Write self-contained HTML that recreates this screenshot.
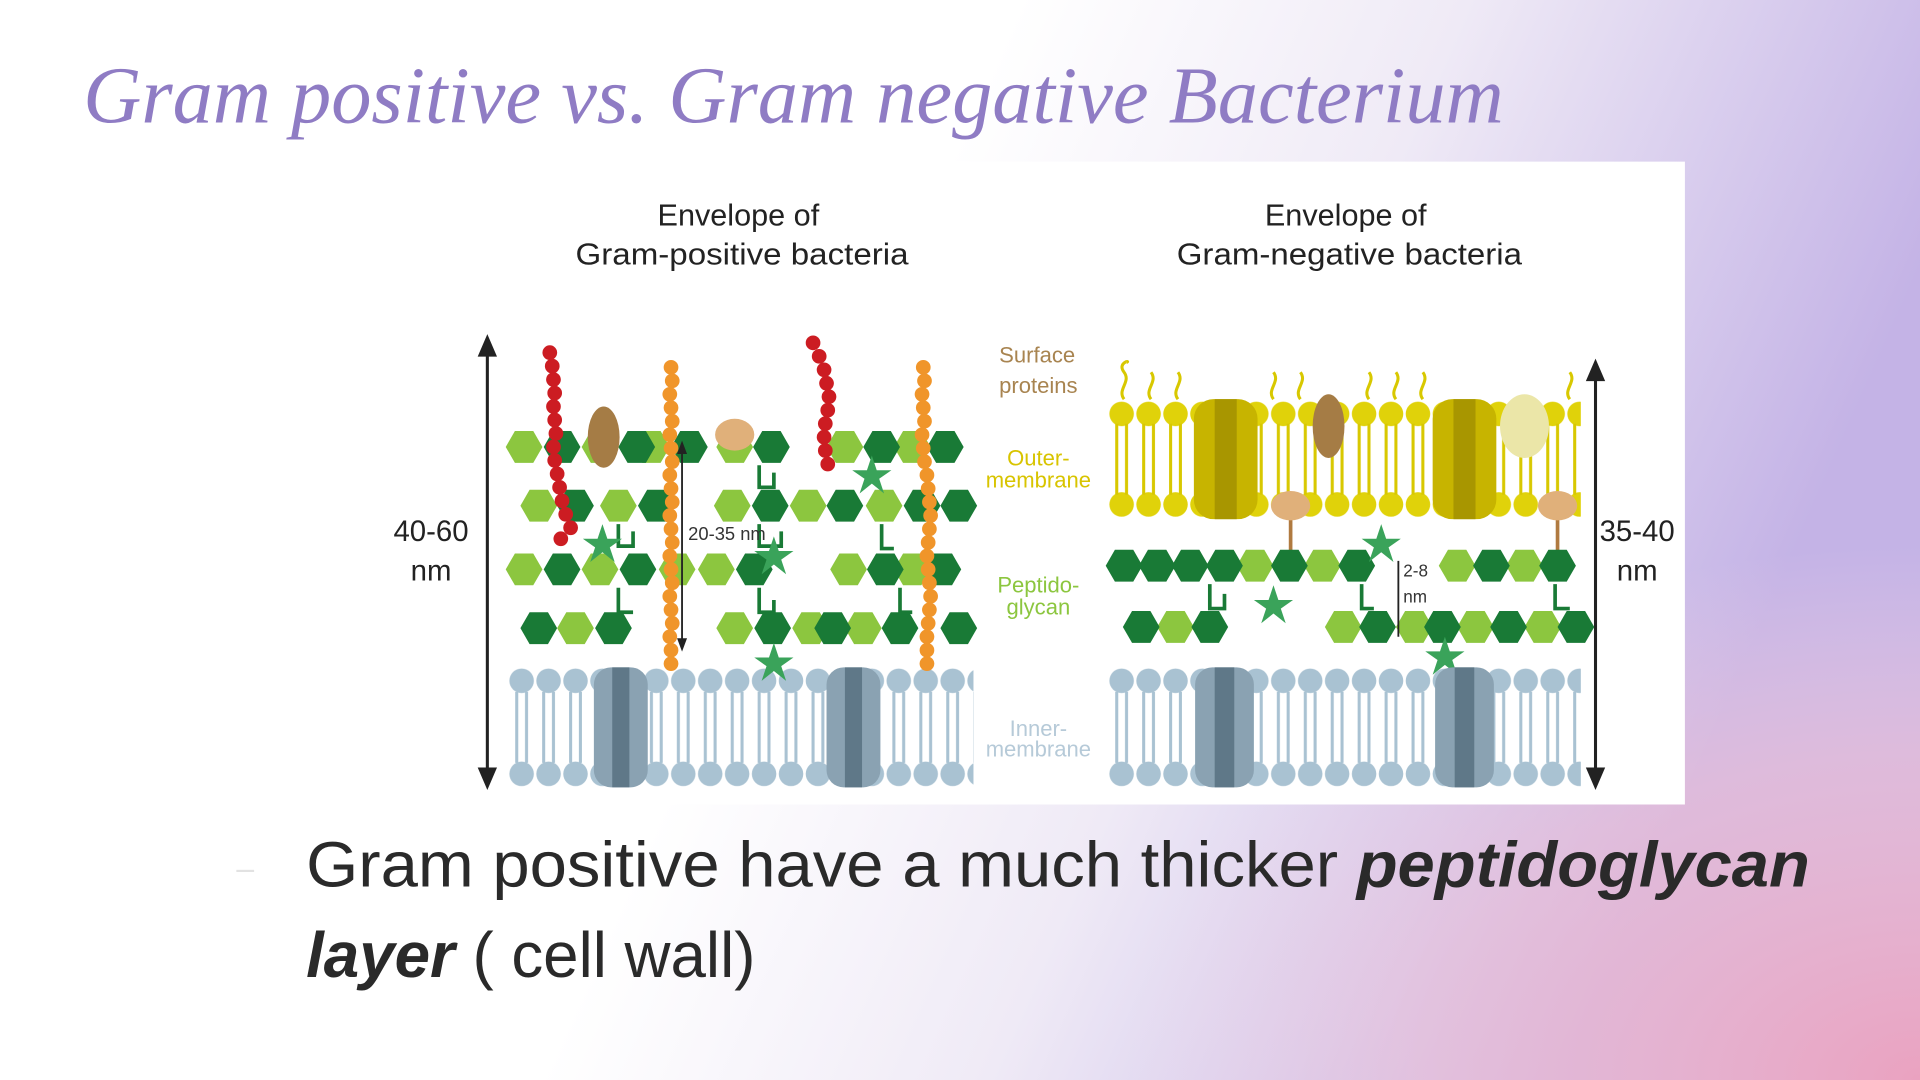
<!DOCTYPE html>
<html><head><meta charset="utf-8"><style>
html,body{margin:0;padding:0;width:1920px;height:1080px;overflow:hidden;background:#fff}
svg{display:block}
</style></head><body>
<svg width="1920" height="1080" viewBox="0 0 1568 882" xmlns="http://www.w3.org/2000/svg">
<defs>
<linearGradient id="bg1" x1="0" y1="0" x2="1" y2="0.25">
<stop offset="0.5" stop-color="#ffffff"/>
<stop offset="0.72" stop-color="#efeaf6"/>
<stop offset="1" stop-color="#c4b3e6"/>
</linearGradient>
<radialGradient id="bg3" cx="1" cy="1" r="0.75">
<stop offset="0" stop-color="#eaa2c0"/>
<stop offset="0.6" stop-color="#f0c0d4" stop-opacity="0.6"/>
<stop offset="1" stop-color="#f5d5e2" stop-opacity="0"/>
</radialGradient>
<polygon id="hx" points="-15,0 -7.5,-13 7.5,-13 15,0 7.5,13 -7.5,13"/>
<pattern id="mem" patternUnits="userSpaceOnUse" x="415" y="545" width="22" height="98">
<circle cx="11" cy="11" r="10" fill="#a9c2d2"/><circle cx="11" cy="87" r="10" fill="#a9c2d2"/>
<line x1="7" y1="20" x2="7" y2="78" stroke="#a9c2d2" stroke-width="2.5"/><line x1="15" y1="20" x2="15" y2="78" stroke="#a9c2d2" stroke-width="2.5"/>
</pattern>
<pattern id="mem2" patternUnits="userSpaceOnUse" x="905" y="545" width="22" height="98">
<circle cx="11" cy="11" r="10" fill="#a9c2d2"/><circle cx="11" cy="87" r="10" fill="#a9c2d2"/>
<line x1="7" y1="20" x2="7" y2="78" stroke="#a9c2d2" stroke-width="2.5"/><line x1="15" y1="20" x2="15" y2="78" stroke="#a9c2d2" stroke-width="2.5"/>
</pattern>
<pattern id="om" patternUnits="userSpaceOnUse" x="905" y="326" width="22" height="98">
<circle cx="11" cy="12" r="10" fill="#e0d20a"/><circle cx="11" cy="86" r="10" fill="#e0d20a"/>
<line x1="7" y1="20" x2="7" y2="78" stroke="#d8c800" stroke-width="2.5"/><line x1="15" y1="20" x2="15" y2="78" stroke="#d8c800" stroke-width="2.5"/>
</pattern>
</defs>
<rect width="1568" height="882" fill="url(#bg1)"/>
<rect x="700" y="300" width="868" height="582" fill="url(#bg3)"/>

<text x="68" y="100" font-family="Liberation Serif, serif" font-style="italic" font-size="66" fill="#8f7cc4" textLength="1160" lengthAdjust="spacingAndGlyphs">Gram positive vs. Gram negative Bacterium</text>

<rect x="380" y="132" width="996" height="525" fill="#fff"/>
<g font-family="Liberation Sans, sans-serif" font-size="25" fill="#222" text-anchor="middle">
<text x="603" y="184">Envelope of</text><text x="606" y="216" textLength="272" lengthAdjust="spacingAndGlyphs">Gram-positive bacteria</text>
<text x="1099" y="184">Envelope of</text><text x="1102" y="216" textLength="282" lengthAdjust="spacingAndGlyphs">Gram-negative bacteria</text>
<text x="352" y="442" font-size="24">40-60</text><text x="352" y="474" font-size="24">nm</text>
<text x="1337" y="442" font-size="24">35-40</text><text x="1337" y="474" font-size="24">nm</text>
</g>
<g font-family="Liberation Sans, sans-serif" font-size="18" text-anchor="middle">
<text x="847" y="296" fill="#a88450">Surface</text><text x="848" y="321" fill="#a88450">proteins</text>
<text x="848" y="380" fill="#d8c400">Outer-</text><text x="848" y="398" fill="#d8c400">membrane</text>
<text x="848" y="484" fill="#8cc63f">Peptido-</text><text x="848" y="502" fill="#8cc63f">glycan</text>
<text x="848" y="601" fill="#b6cad8">Inner-</text><text x="848" y="618" fill="#b6cad8">membrane</text>
</g>
<g stroke="#222" stroke-width="2.5" fill="#222">
<line x1="398" y1="285" x2="398" y2="634"/><polygon points="392,290 398,276 404,290"/><polygon points="392,628 398,642 404,628"/>
<line x1="1303" y1="305" x2="1303" y2="634"/><polygon points="1297,310 1303,296 1309,310"/><polygon points="1297,628 1303,642 1309,628"/>
</g>

<rect x="415" y="545" width="380" height="98" fill="url(#mem)"/>
<g fill="#8aa2b2"><rect x="485" y="545" width="44" height="98" rx="14"/><rect x="675" y="545" width="44" height="98" rx="14"/></g>
<g fill="#5f7888"><rect x="500" y="545" width="14" height="98"/><rect x="690" y="545" width="14" height="98"/></g>
<g fill="#8cc63f">
<use href="#hx" x="428" y="365"/><use href="#hx" x="490" y="365"/><use href="#hx" x="532" y="365"/><use href="#hx" x="600" y="365"/><use href="#hx" x="690" y="365"/><use href="#hx" x="745" y="365"/>
<use href="#hx" x="440" y="413"/><use href="#hx" x="505" y="413"/><use href="#hx" x="598" y="413"/><use href="#hx" x="660" y="413"/><use href="#hx" x="722" y="413"/>
<use href="#hx" x="428" y="465"/><use href="#hx" x="490" y="465"/><use href="#hx" x="553" y="465"/><use href="#hx" x="585" y="465"/><use href="#hx" x="693" y="465"/><use href="#hx" x="745" y="465"/>
<use href="#hx" x="470" y="513"/><use href="#hx" x="600" y="513"/><use href="#hx" x="662" y="513"/><use href="#hx" x="705" y="513"/>
</g>
<g fill="#197a36">
<use href="#hx" x="459" y="365"/><use href="#hx" x="520" y="365"/><use href="#hx" x="563" y="365"/><use href="#hx" x="630" y="365"/><use href="#hx" x="720" y="365"/><use href="#hx" x="772" y="365"/>
<use href="#hx" x="470" y="413"/><use href="#hx" x="536" y="413"/><use href="#hx" x="629" y="413"/><use href="#hx" x="690" y="413"/><use href="#hx" x="753" y="413"/><use href="#hx" x="783" y="413"/>
<use href="#hx" x="459" y="465"/><use href="#hx" x="521" y="465"/><use href="#hx" x="616" y="465"/><use href="#hx" x="723" y="465"/><use href="#hx" x="770" y="465"/>
<use href="#hx" x="440" y="513"/><use href="#hx" x="501" y="513"/><use href="#hx" x="631" y="513"/><use href="#hx" x="680" y="513"/><use href="#hx" x="735" y="513"/><use href="#hx" x="783" y="513"/>
</g>
<g stroke="#197a36" stroke-width="3" fill="none">
<path d="M620 380v18h12v-12M620 428v18h18v-12M505 428v18h12v-12M505 480v20h12M620 480v20h12v-10M720 428v20h10M735 480v20h10"/>
</g>
<g fill="#3aa35a"><polygon points="492,428 496,440 508,440 498,447 502,459 492,451 482,459 486,447 476,440 488,440"/><polygon points="632,438 636,450 648,450 638,457 642,469 632,461 622,469 626,457 616,450 628,450"/><polygon points="712,372 716,384 728,384 718,391 722,403 712,395 702,403 706,391 696,384 708,384"/><polygon points="632,525 636,537 648,537 638,544 642,556 632,548 622,556 626,544 616,537 628,537"/></g>
<ellipse cx="493" cy="357" rx="13" ry="25" fill="#a57c45"/>
<ellipse cx="600" cy="355" rx="16" ry="13" fill="#e0b07a"/>
<g fill="#cc1c22">
<circle cx="449" cy="288" r="6"/><circle cx="451" cy="299" r="6"/><circle cx="452" cy="310" r="6"/><circle cx="453" cy="321" r="6"/><circle cx="452" cy="332" r="6"/><circle cx="453" cy="343" r="6"/><circle cx="454" cy="354" r="6"/><circle cx="452" cy="365" r="6"/><circle cx="453" cy="376" r="6"/><circle cx="455" cy="387" r="6"/><circle cx="457" cy="398" r="6"/><circle cx="459" cy="409" r="6"/><circle cx="462" cy="420" r="6"/><circle cx="466" cy="431" r="6"/><circle cx="458" cy="440" r="6"/>
<circle cx="664" cy="280" r="6"/><circle cx="669" cy="291" r="6"/><circle cx="673" cy="302" r="6"/><circle cx="675" cy="313" r="6"/><circle cx="677" cy="324" r="6"/><circle cx="676" cy="335" r="6"/><circle cx="674" cy="346" r="6"/><circle cx="673" cy="357" r="6"/><circle cx="674" cy="368" r="6"/><circle cx="676" cy="379" r="6"/>
</g>
<g fill="#f0952a">
<circle cx="548" cy="300" r="6"/><circle cx="549" cy="311" r="6"/><circle cx="547" cy="322" r="6"/><circle cx="548" cy="333" r="6"/><circle cx="549" cy="344" r="6"/><circle cx="547" cy="355" r="6"/><circle cx="548" cy="366" r="6"/><circle cx="549" cy="377" r="6"/><circle cx="547" cy="388" r="6"/><circle cx="548" cy="399" r="6"/><circle cx="549" cy="410" r="6"/><circle cx="547" cy="421" r="6"/><circle cx="548" cy="432" r="6"/><circle cx="549" cy="443" r="6"/><circle cx="547" cy="454" r="6"/><circle cx="548" cy="465" r="6"/><circle cx="549" cy="476" r="6"/><circle cx="547" cy="487" r="6"/><circle cx="548" cy="498" r="6"/><circle cx="549" cy="509" r="6"/><circle cx="547" cy="520" r="6"/><circle cx="548" cy="531" r="6"/><circle cx="548" cy="542" r="6"/>
<circle cx="754" cy="300" r="6"/><circle cx="755" cy="311" r="6"/><circle cx="753" cy="322" r="6"/><circle cx="754" cy="333" r="6"/><circle cx="755" cy="344" r="6"/><circle cx="753" cy="355" r="6"/><circle cx="754" cy="366" r="6"/><circle cx="755" cy="377" r="6"/><circle cx="757" cy="388" r="6"/><circle cx="758" cy="399" r="6"/><circle cx="759" cy="410" r="6"/><circle cx="760" cy="421" r="6"/><circle cx="759" cy="432" r="6"/><circle cx="758" cy="443" r="6"/><circle cx="757" cy="454" r="6"/><circle cx="758" cy="465" r="6"/><circle cx="759" cy="476" r="6"/><circle cx="760" cy="487" r="6"/><circle cx="759" cy="498" r="6"/><circle cx="758" cy="509" r="6"/><circle cx="757" cy="520" r="6"/><circle cx="757" cy="531" r="6"/><circle cx="757" cy="542" r="6"/>
</g>
<g stroke="#222" stroke-width="1.5" fill="#222"><line x1="557" y1="367" x2="557" y2="525"/><polygon points="554,522 557,530 560,522"/><polygon points="554,370 557,362 560,370"/></g>
<text x="562" y="441" font-family="Liberation Sans, sans-serif" font-size="15" fill="#333">20-35 nm</text>

<rect x="905" y="326" width="386" height="98" fill="url(#om)"/>
<g stroke="#d8c800" stroke-width="2.5" fill="none">
<path d="M918 326c-6-8 6-14 0-22s6-10 2-8M940 326c-6-8 6-14 0-22M962 326c-6-8 6-14 0-22M1040 326c-6-8 6-14 0-22M1062 326c-6-8 6-14 0-22M1118 326c-6-8 6-14 0-22M1140 326c-6-8 6-14 0-22M1162 326c-6-8 6-14 0-22M1282 326c-6-8 6-14 0-22"/>
</g>
<g fill="#c7b400"><rect x="975" y="326" width="52" height="98" rx="16"/><rect x="1170" y="326" width="52" height="98" rx="16"/></g>
<g fill="#a89600"><rect x="992" y="326" width="18" height="98"/><rect x="1187" y="326" width="18" height="98"/></g>
<ellipse cx="1085" cy="348" rx="13" ry="26" fill="#a57c45"/>
<ellipse cx="1245" cy="348" rx="20" ry="26" fill="#ebe6a8"/>
<g stroke="#b07a40" stroke-width="3"><line x1="1054" y1="420" x2="1054" y2="455"/><line x1="1272" y1="420" x2="1272" y2="455"/></g>
<g fill="#e0b07a"><ellipse cx="1054" cy="413" rx="16" ry="12"/><ellipse cx="1272" cy="413" rx="16" ry="12"/></g>
<g fill="#8cc63f">
<use href="#hx" x="1025" y="462"/><use href="#hx" x="1080" y="462"/><use href="#hx" x="1190" y="462"/><use href="#hx" x="1245" y="462"/>
<use href="#hx" x="960" y="512"/><use href="#hx" x="1097" y="512"/><use href="#hx" x="1155" y="512"/><use href="#hx" x="1205" y="512"/><use href="#hx" x="1260" y="512"/>
</g>
<g fill="#197a36">
<use href="#hx" x="918" y="462"/><use href="#hx" x="945" y="462"/><use href="#hx" x="972" y="462"/><use href="#hx" x="1000" y="462"/><use href="#hx" x="1053" y="462"/><use href="#hx" x="1108" y="462"/><use href="#hx" x="1218" y="462"/><use href="#hx" x="1272" y="462"/>
<use href="#hx" x="932" y="512"/><use href="#hx" x="988" y="512"/><use href="#hx" x="1125" y="512"/><use href="#hx" x="1178" y="512"/><use href="#hx" x="1232" y="512"/><use href="#hx" x="1287" y="512"/>
</g>
<g stroke="#197a36" stroke-width="3" fill="none"><path d="M988 477v20h12v-12M1112 477v20h10M1270 477v20h12"/></g>
<g fill="#3aa35a"><polygon points="1040,478 1044,490 1056,490 1046,497 1050,509 1040,501 1030,509 1034,497 1024,490 1036,490"/><polygon points="1128,428 1132,440 1144,440 1134,447 1138,459 1128,451 1118,459 1122,447 1112,440 1124,440"/><polygon points="1180,520 1184,532 1196,532 1186,539 1190,551 1180,543 1170,551 1174,539 1164,532 1176,532"/></g>
<g stroke="#222" stroke-width="1.5" fill="#222"><line x1="1142" y1="458" x2="1142" y2="520"/></g>
<text x="1146" y="471" font-family="Liberation Sans, sans-serif" font-size="14" fill="#333">2-8</text>
<text x="1146" y="492" font-family="Liberation Sans, sans-serif" font-size="14" fill="#333">nm</text>
<rect x="905" y="545" width="386" height="98" fill="url(#mem2)"/>
<g fill="#8aa2b2"><rect x="976" y="545" width="48" height="98" rx="14"/><rect x="1172" y="545" width="48" height="98" rx="14"/></g>
<g fill="#5f7888"><rect x="992" y="545" width="16" height="98"/><rect x="1188" y="545" width="16" height="98"/></g>

<text x="193" y="718" font-family="Liberation Sans, sans-serif" font-size="26" fill="#e2e2e2">–</text>
<g font-family="Liberation Sans, sans-serif" font-size="52" fill="#2a2a2a">
<text x="250" y="724"><tspan textLength="858" lengthAdjust="spacingAndGlyphs">Gram positive have a much thicker </tspan><tspan font-weight="bold" font-style="italic" textLength="370" lengthAdjust="spacingAndGlyphs">peptidoglycan</tspan></text>
<text x="250" y="798"><tspan font-weight="bold" font-style="italic">layer</tspan> ( cell wall)</text>
</g>
</svg>
</body></html>
